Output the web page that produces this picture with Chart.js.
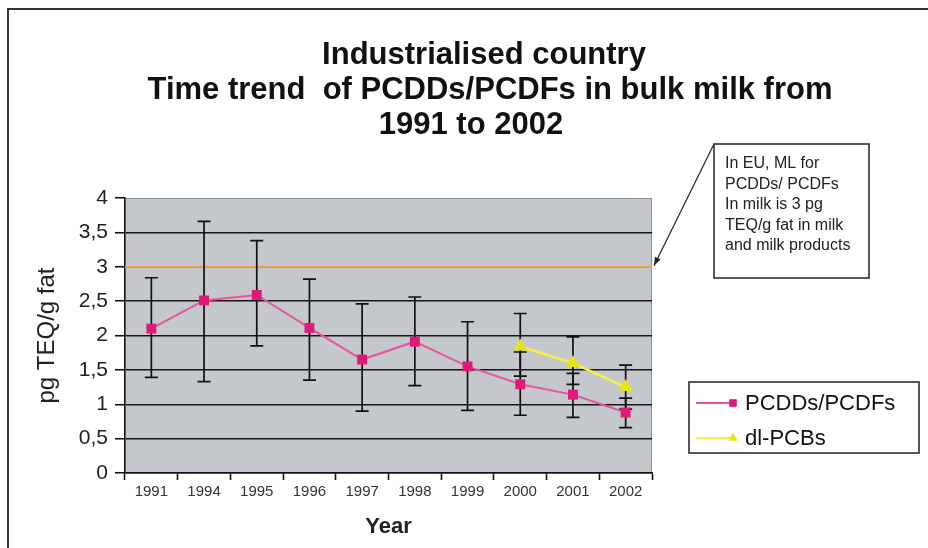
<!DOCTYPE html>
<html lang="en">
<head>
<meta charset="UTF-8">
<title>PCDDs/PCDFs in bulk milk</title>
<script src="https://cdn.jsdelivr.net/npm/chart.js"></script>
<style>
  body { margin: 0; background: #fff; }
  #wrap { width: 928px; height: 548px; }
</style>
</head>
<body>
<div id="wrap"><canvas id="chart"></canvas></div>
<script>
// values
const years = ['1991', '1994', '1995', '1996', '1997', '1998', '1999', '2000', '2001', '2002'];
const pcdd = [2.10, 2.51, 2.59, 2.11, 1.65, 1.91, 1.55, 1.29, 1.14, 0.88];
const pcddLow = [1.39, 1.33, 1.85, 1.35, 0.90, 1.27, 0.91, 0.84, 0.81, 0.66];
const pcddHigh = [2.84, 3.66, 3.38, 2.82, 2.46, 2.56, 2.20, 1.76, 1.45, 1.09];
const pcb = [null, null, null, null, null, null, null, 1.84, 1.60, 1.25];
const pcbLow = [null, null, null, null, null, null, null, 1.41, 1.29, 0.93];
const pcbHigh = [null, null, null, null, null, null, null, 2.32, 1.98, 1.57];
const euLimit = 3;
const yTicks = [0, 0.5, 1, 1.5, 2, 2.5, 3, 3.5, 4];

const titleLines = ['Industrialised country', 'Time trend  of PCDDs/PCDFs in bulk milk from', '1991 to 2002'];
const noteLines = ['In EU, ML for', 'PCDDs/ PCDFs', 'In milk is 3 pg', 'TEQ/g fat in milk', 'and milk products'];

const FONT = '"Liberation Sans", Arial, sans-serif';

// grey plot background, frame, title
const decor = {
  id: 'decor',
  beforeDraw(chart) {
    const {ctx, chartArea: a} = chart;
    ctx.save();
    ctx.fillStyle = '#c4c7cc';
    ctx.fillRect(a.left, a.top, a.right - a.left, a.bottom - a.top);
    ctx.strokeStyle = '#8c9094';
    ctx.lineWidth = 1;
    ctx.beginPath();
    ctx.moveTo(a.left, a.top + 0.5);
    ctx.lineTo(a.right - 0.5, a.top + 0.5);
    ctx.lineTo(a.right - 0.5, a.bottom);
    ctx.stroke();
    // outer frame
    ctx.strokeStyle = '#333';
    ctx.lineWidth = 2;
    ctx.beginPath();
    ctx.moveTo(8, 548);
    ctx.lineTo(8, 9);
    ctx.lineTo(928, 9);
    ctx.stroke();
    // title
    ctx.fillStyle = '#111';
    ctx.font = 'bold 31px ' + FONT;
    ctx.textAlign = 'center';
    ctx.textBaseline = 'middle';
    const cx = [484, 490, 471];
    titleLines.forEach((t, i) => ctx.fillText(t, cx[i], 55 + i * 35));
    ctx.restore();
  }
};

// EU limit line + error bars, under the series
const bars = {
  id: 'bars',
  beforeDatasetsDraw(chart) {
    const {ctx, chartArea: a, scales: {x, y}} = chart;
    ctx.save();
    ctx.strokeStyle = '#f0a848';
    ctx.lineWidth = 2;
    ctx.beginPath();
    ctx.moveTo(a.left, y.getPixelForValue(euLimit));
    ctx.lineTo(a.right, y.getPixelForValue(euLimit));
    ctx.stroke();

    ctx.strokeStyle = '#111';
    ctx.lineWidth = 1.7;
    const drawErr = (lo, hi) => {
      lo.forEach((v, i) => {
        if (v == null) return;
        const px = x.getPixelForValue(i);
        const y1 = y.getPixelForValue(v), y2 = y.getPixelForValue(hi[i]);
        ctx.beginPath();
        ctx.moveTo(px, y1); ctx.lineTo(px, y2);
        ctx.moveTo(px - 6.5, y1); ctx.lineTo(px + 6.5, y1);
        ctx.moveTo(px - 6.5, y2); ctx.lineTo(px + 6.5, y2);
        ctx.stroke();
      });
    };
    drawErr(pcddLow, pcddHigh);
    drawErr(pcbLow, pcbHigh);
    ctx.restore();
  }
};

// note box with arrow, and the boxed legend
const extras = {
  id: 'extras',
  afterDraw(chart) {
    const {ctx, chartArea: a, scales: {y}} = chart;
    ctx.save();
    // note box
    ctx.strokeStyle = '#222';
    ctx.lineWidth = 1.5;
    ctx.strokeRect(714, 144, 155, 134);
    ctx.fillStyle = '#222';
    ctx.font = '16px ' + FONT;
    ctx.textAlign = 'left';
    ctx.textBaseline = 'middle';
    noteLines.forEach((t, i) => ctx.fillText(t, 725, 164 + i * 20.5));
    // arrow
    const tx = a.right + 2, ty = y.getPixelForValue(euLimit) - 1;
    ctx.lineWidth = 1.2;
    ctx.beginPath();
    ctx.moveTo(714, 144);
    ctx.lineTo(tx, ty);
    ctx.stroke();
    const ang = Math.atan2(ty - 144, tx - 714);
    ctx.beginPath();
    ctx.moveTo(tx, ty);
    ctx.lineTo(tx - 9 * Math.cos(ang - 0.35), ty - 9 * Math.sin(ang - 0.35));
    ctx.lineTo(tx - 9 * Math.cos(ang + 0.35), ty - 9 * Math.sin(ang + 0.35));
    ctx.closePath();
    ctx.fill();

    // legend
    ctx.strokeStyle = '#222';
    ctx.lineWidth = 1.5;
    ctx.strokeRect(689, 382, 230, 71);
    ctx.font = '22px ' + FONT;
    chart.data.datasets.forEach((ds, i) => {
      const ly = 403 + i * 35;
      ctx.strokeStyle = ds.borderColor;
      ctx.lineWidth = 2;
      ctx.beginPath();
      ctx.moveTo(696, ly);
      ctx.lineTo(733, ly);
      ctx.stroke();
      ctx.fillStyle = ds.pointBackgroundColor;
      Chart.helpers.drawPoint(ctx, {pointStyle: ds.pointStyle, radius: 5, rotation: 0, borderWidth: 0}, 733, ly);
      ctx.fill();
      ctx.fillStyle = '#111';
      ctx.fillText(ds.label, 745, ly + 1);
    });
    ctx.restore();
  }
};

new Chart(document.getElementById('chart'), {
  type: 'line',
  data: {
    labels: years,
    datasets: [
      {
        label: 'PCDDs/PCDFs',
        data: pcdd,
        borderColor: '#e6559c',
        borderWidth: 2,
        pointStyle: 'rect',
        pointRadius: 7,
        pointBackgroundColor: '#e0187c',
        pointBorderColor: '#e0187c',
        pointBorderWidth: 0
      },
      {
        label: 'dl-PCBs',
        data: pcb,
        borderColor: '#f4f048',
        borderWidth: 2.5,
        pointStyle: 'triangle',
        pointRadius: 8,
        pointBackgroundColor: '#e8e410',
        pointBorderColor: '#e8e410',
        pointBorderWidth: 0
      }
    ]
  },
  options: {
    responsive: true,
    maintainAspectRatio: false,
    animation: false,
    layout: { padding: { left: 8, right: 276, top: 198, bottom: 0 } },
    plugins: {
      legend: { display: false },
      title: { display: false },
      tooltip: { enabled: false }
    },
    scales: {
      x: {
        offset: true,
        afterFit(s) { s.height = 75; },
        border: { color: '#111', width: 1.6 },
        grid: { drawOnChartArea: false, drawTicks: true, tickLength: 7, tickColor: '#111', tickWidth: 1.6, offset: true },
        ticks: { color: '#333', font: { family: FONT, size: 15 }, padding: 3, maxRotation: 0, autoSkip: false },
        title: { display: true, text: 'Year', color: '#222', font: { family: FONT, size: 22, weight: 'bold' }, padding: { top: 0, bottom: 8 } }
      },
      y: {
        min: 0,
        max: 4,
        afterFit(s) { s.width = 117; },
        afterBuildTicks(s) { s.ticks = yTicks.map(v => ({ value: v })); },
        border: { color: '#111', width: 1.6 },
        grid: {
          color: ctx => ctx.tick && ctx.tick.value === 4 ? 'rgba(0,0,0,0)' : '#161616',
          lineWidth: 1.5,
          drawTicks: true,
          tickLength: 10,
          tickColor: '#111',
          tickWidth: 1.6
        },
        ticks: {
          color: '#222',
          padding: 7,
          font: { family: FONT, size: 21 },
          callback: v => String(v).replace('.', ',')
        },
        title: { display: true, text: 'pg TEQ/g fat', color: '#222', font: { family: FONT, size: 24 }, padding: { top: 25, bottom: 0 } }
      }
    }
  },
  plugins: [decor, bars, extras]
});
</script>
</body>
</html>
